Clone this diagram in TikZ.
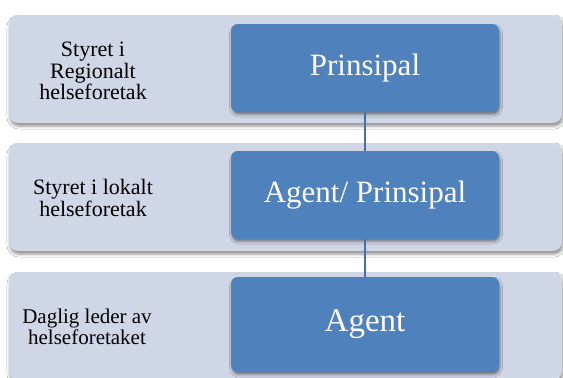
\documentclass[tikz,border=0pt]{standalone}
\usepackage{fontspec}
\setmainfont{Liberation Serif}
\usetikzlibrary{shadows.blur}
\definecolor{bandfill}{RGB}{207,214,230}
\definecolor{boxfill}{RGB}{79,129,189}
\definecolor{linecol}{RGB}{66,112,170}
\tikzset{
  bandbox/.style={rectangle, rounded corners=9pt, fill=bandfill, draw=none,
    minimum width=553pt, minimum height=108pt, inner sep=0pt,
    blur shadow={shadow xshift=1pt, shadow yshift=-3pt, shadow blur radius=3pt, shadow opacity=45}},
  rolebox/.style={rectangle, rounded corners=7pt, fill=boxfill, draw=none,
    minimum width=268pt, inner sep=0pt, text=white,
    blur shadow={shadow xshift=1pt, shadow yshift=-2.5pt, shadow blur radius=2.5pt, shadow opacity=45}},
  leftlabel/.style={align=center, inner sep=0pt, text=black},
  link/.style={draw=linecol, line width=1.4pt}
}
\begin{document}
\begin{tikzpicture}[x=1pt, y=-1pt]
\useasboundingbox (0,0) rectangle (563,378);
\fill[white] (0,0) rectangle (563,378);
% bands
\node[bandbox] (band1) at (285.5,69) {};
\node[bandbox] (band2) at (285.5,197) {};
\node[bandbox] (band3) at (285.5,326) {};
% role boxes
\node[rolebox, minimum height=88pt, font=\fontsize{31}{36}\selectfont] (box1) at (365,68) {Prinsipal};
\node[rolebox, minimum height=88pt, font=\fontsize{31}{36}\selectfont] (box2) at (365,195) {Agent/ Prinsipal};
\node[rolebox, minimum height=95pt, font=\fontsize{33}{38}\selectfont] (box3) at (365,324.5) {Agent};
% connectors
\draw[link] (box1.south) -- (box2.north);
\draw[link] (box2.south) -- (box3.north);
% left labels
\node[leftlabel, font=\fontsize{22}{21.5}\selectfont] (lab1) at (93,71) {Styret i\\Regionalt\\helseforetak};
\node[leftlabel, font=\fontsize{22}{22}\selectfont] (lab2) at (93,198) {Styret i lokalt\\helseforetak};
\node[leftlabel, font=\fontsize{21}{20.5}\selectfont] (lab3) at (87,327) {Daglig leder av\\helseforetaket};
\end{tikzpicture}
\end{document}
